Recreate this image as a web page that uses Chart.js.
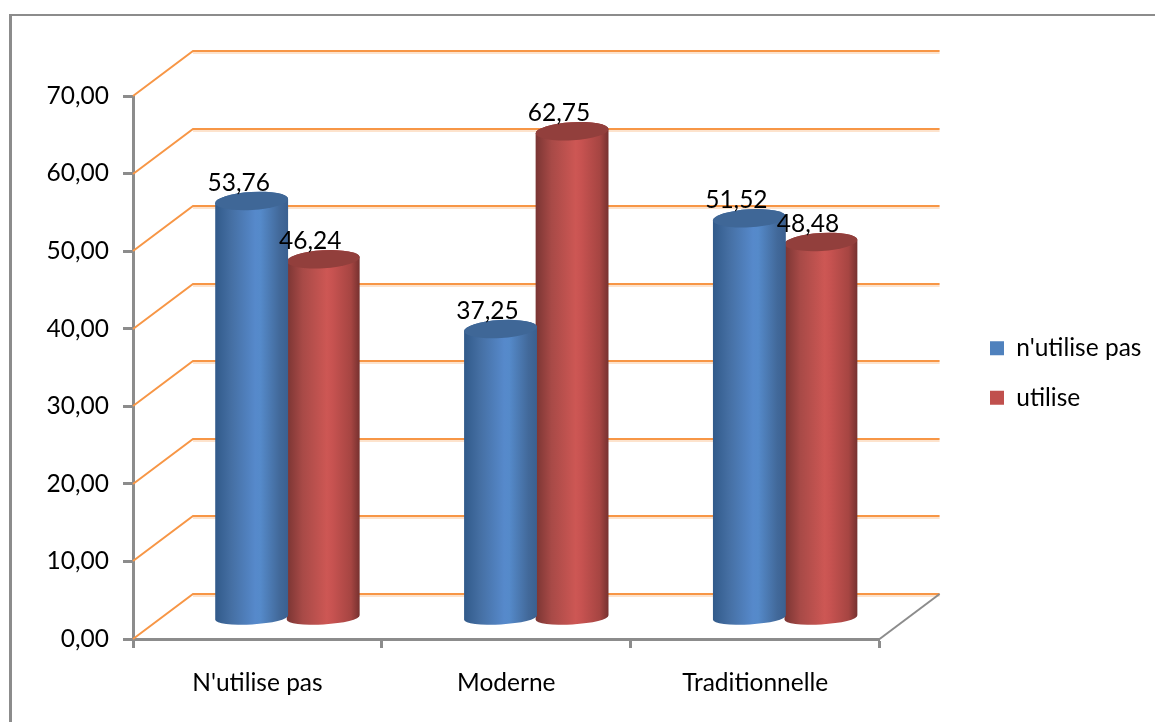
<!DOCTYPE html>
<html lang="fr">
<head>
<meta charset="utf-8">
<title>Utilisation par type de méthode</title>
<style>
  html, body { margin: 0; padding: 0; background: #fff; }
  canvas { display: block; }
</style>
<script src="https://cdn.jsdelivr.net/npm/chart.js@4"></script>
</head>
<body>
<canvas id="chart" width="1155" height="722"></canvas>
<script>
const categories = ["N'utilise pas", "Moderne", "Traditionnelle"];
const seriesNames = ["n'utilise pas", "utilise"];
const nonUsers = [53.76, 37.25, 51.52];
const users = [46.24, 62.75, 48.48];

const FONT = "Lato, 'Open Sans', sans-serif";
const TEXT_SIZE = 24.5;
const AXIS_GREY = "#8c8c8c";
const GRID_ORANGE = "#f79646";
const GRID_SHADOW = "#fde3cd";
const DEPTH_X = 60, DEPTH_Y = 45;        // receding wall offset of the 3D box
const BAR_SHIFT_X = 30, BAR_SHIFT_Y = 21; // bars stand halfway into the box
const BAR_RX = 36.5, TOP_RY = 9, BASE_RY = 7, TILT = -0.06;

const palette = [
  { solid: "#4f81bd", top: "#3f6797", stops: ["#315a8a", "#456fa3", "#5689cb", "#558aca", "#42699a", "#3a6090"] },
  { solid: "#c0504d", top: "#923f3c", stops: ["#7a3533", "#a84a47", "#cd5754", "#c85351", "#a64542", "#76312f"] }
];
const stopAt = [0, 0.22, 0.55, 0.62, 0.88, 1];

const formatFr = v => v.toFixed(2).replace(".", ",");

// Frame round the chart and the receding grid of the 3D box.
const backdrop = {
  id: "backdrop",
  beforeDraw(chart) {
    const { ctx } = chart;
    ctx.save();
    ctx.fillStyle = AXIS_GREY;
    ctx.fillRect(9, 14, 1146, 2);
    ctx.fillRect(9, 14, 3, 708);
    ctx.restore();
  },
  beforeDatasetsDraw(chart) {
    const { ctx, scales: { x, y } } = chart;
    const left = x.left, right = x.right;
    ctx.save();
    for (const tick of y.ticks) {
      const py = Math.round(y.getPixelForValue(tick.value));
      ctx.strokeStyle = GRID_SHADOW;
      ctx.lineWidth = 2;
      ctx.beginPath();
      ctx.moveTo(left + DEPTH_X, py - DEPTH_Y + 2);
      ctx.lineTo(right + DEPTH_X, py - DEPTH_Y + 2);
      ctx.stroke();
      ctx.strokeStyle = GRID_ORANGE;
      ctx.lineWidth = 2;
      ctx.beginPath();
      ctx.moveTo(left, py);
      ctx.lineTo(left + DEPTH_X, py - DEPTH_Y);
      ctx.lineTo(right + DEPTH_X, py - DEPTH_Y);
      ctx.stroke();
    }
    const floor = Math.round(y.getPixelForValue(0));
    ctx.strokeStyle = AXIS_GREY;
    ctx.lineWidth = 2;
    ctx.beginPath();
    ctx.moveTo(right, floor);
    ctx.lineTo(right + DEPTH_X, floor - DEPTH_Y);
    ctx.stroke();
    ctx.restore();
  },
  afterLayout(chart) {
    // Legend column sits well to the right of the plot.
    const legend = chart.legend;
    const pad = legend.options.labels.padding;
    const width = legend.width;
    legend.left = 990 - pad;
    legend.right = legend.left + width;
    legend.top -= 36;
    legend.bottom -= 36;
  }
};

// Each bar is painted as a shaded cylinder from the element's own geometry.
const cylinders = {
  id: "cylinders",
  beforeDatasetDraw(chart, args) {
    const { ctx } = chart;
    const colours = palette[args.index];
    const meta = chart.getDatasetMeta(args.index);
    ctx.save();
    for (const bar of meta.data) {
      const cx = bar.x + BAR_SHIFT_X;
      const top = bar.y - BAR_SHIFT_Y;
      const base = bar.base - BAR_SHIFT_Y;
      const rx = BAR_RX;
      const grad = ctx.createLinearGradient(cx - rx, 0, cx + rx, 0);
      colours.stops.forEach((c, i) => grad.addColorStop(stopAt[i], c));
      ctx.beginPath();
      ctx.ellipse(cx, base, rx, BASE_RY, TILT, 0, Math.PI);
      ctx.ellipse(cx, top, rx, TOP_RY, TILT, Math.PI, Math.PI * 2);
      ctx.closePath();
      ctx.fillStyle = grad;
      ctx.fill();
      ctx.beginPath();
      ctx.ellipse(cx, top, rx, TOP_RY, TILT, 0, Math.PI * 2);
      ctx.fillStyle = colours.top;
      ctx.fill();
    }
    ctx.restore();
    return false;
  },
  afterDatasetsDraw(chart) {
    const { ctx } = chart;
    ctx.save();
    ctx.font = TEXT_SIZE + "px " + FONT;
    ctx.fillStyle = "#000";
    ctx.textAlign = "center";
    ctx.textBaseline = "middle";
    chart.data.datasets.forEach((ds, i) => {
      chart.getDatasetMeta(i).data.forEach((bar, j) => {
        ctx.fillText(formatFr(ds.data[j]), bar.x + BAR_SHIFT_X - 13, bar.y - BAR_SHIFT_Y - 18);
      });
    });
    ctx.restore();
  }
};

new Chart(document.getElementById("chart"), {
  type: "bar",
  data: {
    labels: categories,
    datasets: [
      { label: seriesNames[0], data: nonUsers, backgroundColor: palette[0].solid, borderWidth: 0 },
      { label: seriesNames[1], data: users, backgroundColor: palette[1].solid, borderWidth: 0 }
    ]
  },
  plugins: [backdrop, cylinders],
  options: {
    responsive: false,
    animation: false,
    layout: { padding: { left: 0, top: 96, right: 89, bottom: 0 } },
    datasets: { bar: { barPercentage: 1, categoryPercentage: 0.575 } },
    plugins: {
      tooltip: { enabled: false },
      title: { display: false },
      legend: {
        position: "right",
        labels: {
          font: { family: FONT, size: TEXT_SIZE },
          color: "#000",
          boxWidth: 14,
          boxHeight: 14,
          padding: 25
        }
      }
    },
    scales: {
      x: {
        afterFit(scale) { scale.height = 83; },
        grid: { drawOnChartArea: false, tickLength: 9, tickWidth: 3, tickColor: AXIS_GREY },
        border: { color: AXIS_GREY, width: 3 },
        ticks: { font: { family: FONT, size: TEXT_SIZE }, color: "#000", padding: 20, maxRotation: 0 }
      },
      y: {
        min: 0,
        max: 70,
        afterFit(scale) { scale.width = 133; },
        grid: { drawOnChartArea: false, tickLength: 10, tickWidth: 3, tickColor: AXIS_GREY },
        border: { color: AXIS_GREY, width: 3 },
        ticks: {
          stepSize: 10,
          font: { family: FONT, size: TEXT_SIZE },
          color: "#000",
          padding: 14,
          callback: v => formatFr(v)
        }
      }
    }
  }
});
</script>
</body>
</html>
